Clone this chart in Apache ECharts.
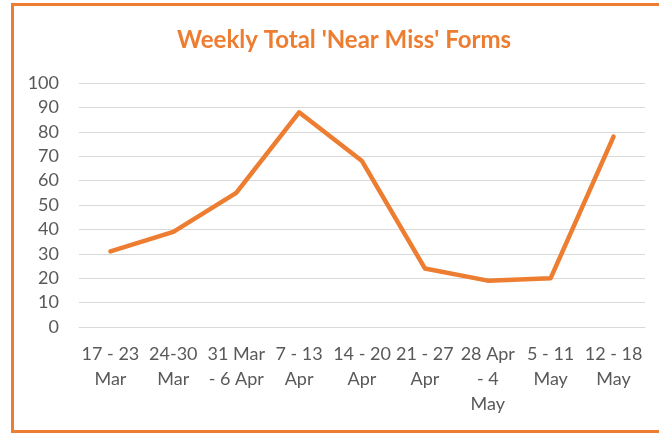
<!DOCTYPE html>
<html>
<head>
<meta charset="utf-8">
<script src="https://cdn.jsdelivr.net/npm/echarts@6/dist/echarts.min.js"></script>
<style>
  html, body { margin: 0; padding: 0; background: #fff; overflow: hidden; }
  #main { width: 659px; height: 434px; }
</style>
</head>
<body>
<div id="main"></div>
<script>
  // week labels (Excel wraps them over several lines)
  var weeks = ['17 - 23\nMar', '24-30\nMar', '31 Mar\n- 6 Apr', '7 - 13\nApr', '14 - 20\nApr',
               '21 - 27\nApr', '28 Apr\n- 4\nMay', '5 - 11\nMay', '12 - 18\nMay'];
  // weekly totals of near miss forms
  var forms = [31, 39, 55, 88, 68, 24, 19, 20, 78];

  var orange = '#ED7D31';
  var myChart = echarts.init(document.getElementById('main'));

  var option = {
    animation: false,
    textStyle: { fontFamily: 'Lato' },
    title: {
      text: "Weekly Total 'Near Miss' Forms",
      left: 172,
      top: 23,
      textStyle: { color: orange, fontSize: 24, fontWeight: 'bold', fontFamily: 'Lato' }
    },
    graphic: [{
      type: 'rect',
      silent: true,
      shape: { x: 12.5, y: 4.5, width: 700, height: 427 },
      style: { fill: 'none', stroke: orange, lineWidth: 3 }
    }],
    grid: {
      left: 79,
      right: 14,
      top: 83,
      bottom: 107,
      containLabel: false,
      outerBoundsMode: 'none'
    },
    xAxis: {
      type: 'category',
      data: weeks,
      boundaryGap: true,
      axisLine: { show: true, lineStyle: { color: '#D9D9D9', width: 1 } },
      axisTick: { show: false },
      axisLabel: {
        interval: 0,
        color: '#595959',
        fontSize: 18,
        lineHeight: 25,
        margin: 15
      }
    },
    yAxis: {
      type: 'value',
      min: 0,
      max: 100,
      interval: 10,
      axisLine: { show: false },
      axisTick: { show: false },
      splitLine: { lineStyle: { color: '#D9D9D9', width: 1 } },
      axisLabel: { color: '#595959', fontSize: 18, margin: 20 }
    },
    series: [{
      name: 'Forms',
      type: 'line',
      data: forms,
      showSymbol: false,
      symbol: 'none',
      lineStyle: { color: orange, width: 4.5, cap: 'round', join: 'round' }
    }]
  };

  myChart.setOption(option);
</script>
</body>
</html>
